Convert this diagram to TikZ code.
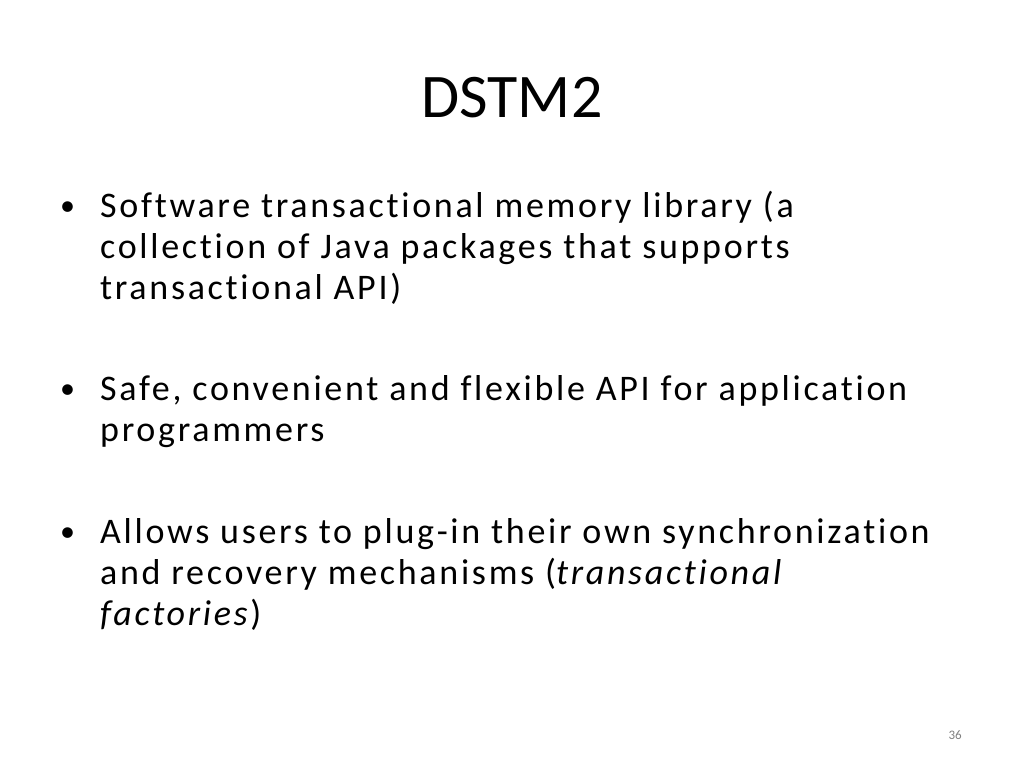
\documentclass[tikz,border=0pt]{standalone}
\usepackage{fontspec}
\setmainfont{Carlito}
\newfontfamily\bodyfont[LetterSpace=7.5,Ligatures=NoCommon]{Carlito}
\begin{document}
\begin{tikzpicture}[x=1pt,y=-1pt,
  txt/.style={anchor=base west,inner sep=0pt,font=\bodyfont\fontsize{36}{41}\selectfont},
  bul/.style={anchor=base west,inner sep=0pt,font=\fontsize{30}{41}\selectfont}]
\useasboundingbox[fill=white] (0,0) rectangle (1024,768);
\node[anchor=base,inner sep=0pt,font=\fontsize{62}{70}\selectfont] (title) at (512,117) {DSTM2};
\node[bul] (b1) at (60,215) {•};
\node[txt] (l1) at (100,217) {Software transactional memory library (a};
\node[txt] (l2) at (100,258) {collection of Java packages that supports};
\node[txt] (l3) at (100,299) {transactional API)};
\node[bul] (b2) at (60,398) {•};
\node[txt] (l4) at (100,400) {Safe, convenient and flexible API for application};
\node[txt] (l5) at (100,441) {programmers};
\node[bul] (b3) at (60,541) {•};
\node[txt] (l6) at (100,543) {Allows users to plug-in their own synchronization};
\node[txt] (l7) at (100,584) {and recovery mechanisms (\textit{transactional}};
\node[txt] (l8) at (100,625) {\textit{factories})};
\node[anchor=base east,inner sep=0pt,font=\fontsize{13}{15}\selectfont,text=gray] (pg) at (962,739) {36};
\end{tikzpicture}
\end{document}
